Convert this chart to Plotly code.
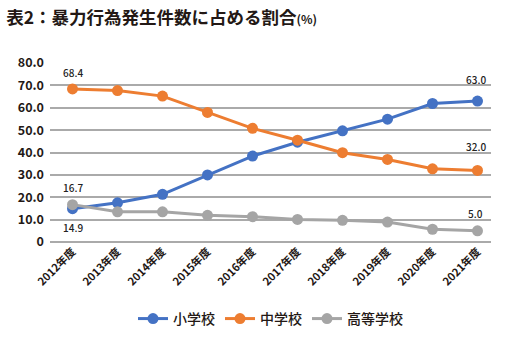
import plotly.graph_objects as go

years = ["2012年度", "2013年度", "2014年度", "2015年度", "2016年度",
         "2017年度", "2018年度", "2019年度", "2020年度", "2021年度"]
elementary = [14.9, 17.5, 21.3, 30.0, 38.4, 44.6, 49.7, 54.9, 61.9, 63.0]
junior_high = [68.4, 67.7, 65.2, 57.9, 50.8, 45.5, 39.9, 36.9, 32.7, 32.0]
high_school = [16.7, 13.5, 13.5, 11.9, 11.3, 10.1, 9.7, 8.9, 5.7, 5.0]

names = ["小学校", "中学校", "高等学校"]
colors = ["#4472C4", "#ED7D31", "#A5A5A5"]
series = [elementary, junior_high, high_school]

FONT = "Noto Sans CJK JP"

fig = go.Figure()
for name, color, vals in zip(names, colors, series):
    fig.add_trace(go.Scatter(
        x=years, y=vals, name=name, mode="lines+markers",
        line=dict(color=color, width=3),
        marker=dict(color=color, size=11),
    ))

# data labels: (series index, point index, yshift)
label_spec = [(1, 0, 16), (2, 0, 17), (0, 0, -19), (0, 9, 22), (1, 9, 24), (2, 9, 17)]
for si, pi, ys in label_spec:
    fig.add_annotation(
        x=years[pi], y=series[si][pi], text=f"{series[si][pi]:.1f}",
        showarrow=False, yshift=ys, xshift=-2 if pi == 9 else 0,
        font=dict(family=FONT, size=10, color="#222222", weight=500),
    )

fig.update_layout(
    width=513, height=347,
    margin=dict(l=50, r=22, t=63, b=105),
    paper_bgcolor="white", plot_bgcolor="white",
    font=dict(family=FONT, color="#222222"),
    title=dict(
        text="<b>表2：暴力行為発生件数に占める割合<span style='font-size:12px'>(%)</span></b>",
        x=0.012, xanchor="left", y=0.948, yanchor="middle",
        font=dict(family=FONT, size=17.5, color="#231815"),
    ),
    xaxis=dict(
        type="category", range=[-0.5, 9.3],
        tickangle=-45, showgrid=False, showline=False, ticks="",
        tickfont=dict(family=FONT, size=11, color="#231815", weight="bold"),
    ),
    yaxis=dict(
        range=[0, 80], tickvals=[0, 10, 20, 30, 40, 50, 60, 70, 80],
        ticktext=["0", "10.0", "20.0", "30.0", "40.0", "50.0", "60.0", "70.0", "80.0"],
        showgrid=True, gridcolor="#AAAAAA", gridwidth=1.5,
        zeroline=True, zerolinecolor="#AAAAAA", zerolinewidth=1.5,
        tickfont=dict(family=FONT, size=12.5, color="#231815", weight="bold"),
        ticks="", ticklabelstandoff=5,
    ),
    legend=dict(
        orientation="h", x=0.5, xanchor="center", y=-0.43, yanchor="middle",
        font=dict(family=FONT, size=14, color="#231815", weight=500),
        itemwidth=30,
    ),
)

fig.write_html("out.html")
